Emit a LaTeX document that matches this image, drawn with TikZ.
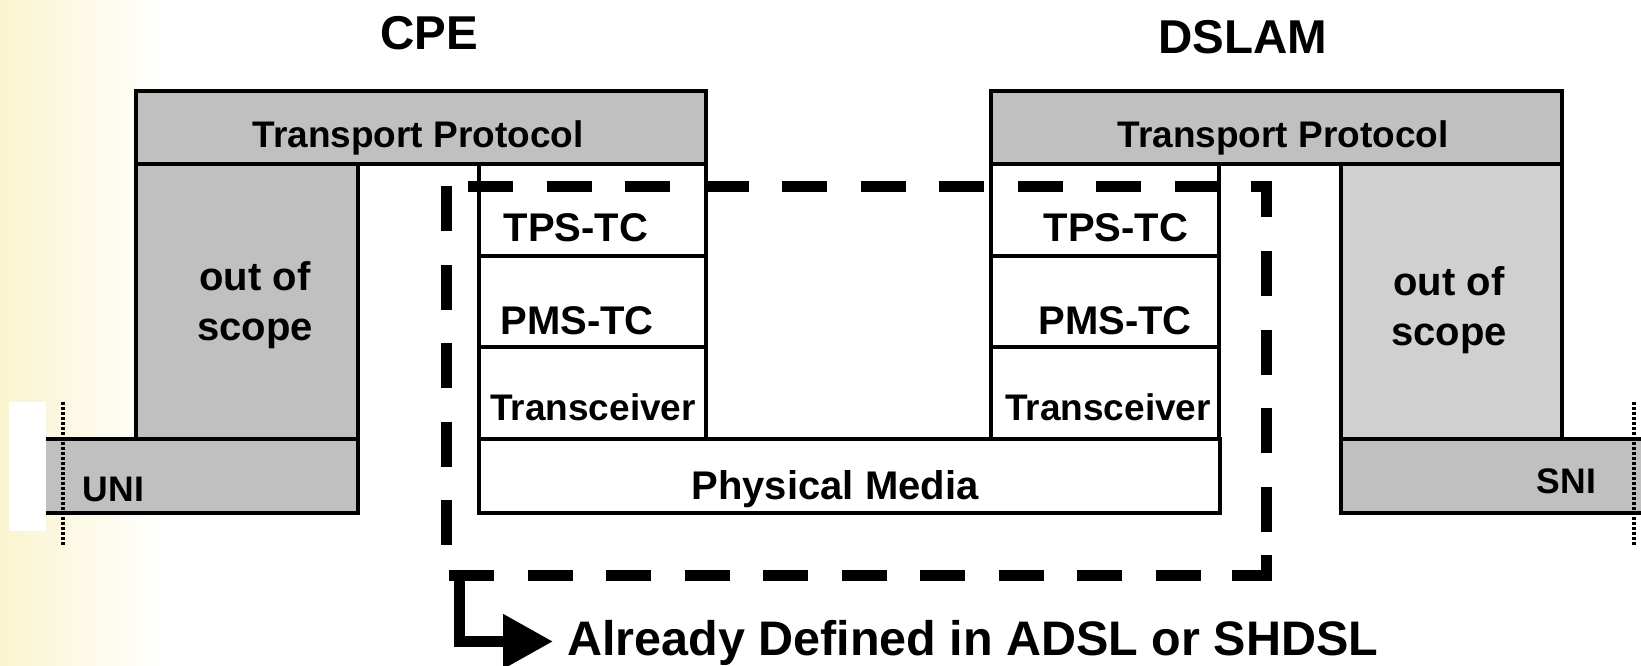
\documentclass[tikz,border=0pt]{standalone}
\usepackage{fontspec}
\setmainfont{Liberation Sans}
\usetikzlibrary{arrows.meta}
\definecolor{boxgray}{HTML}{C0C0C0}
\definecolor{boxlight}{HTML}{D0D0D0}
\definecolor{cream}{RGB}{250,244,208}
\begin{document}
\begin{tikzpicture}[x=1pt,y=-1pt,
  box/.style={draw=black,line width=4pt},
  lbl/.style={inner sep=0pt,font=\bfseries\fontsize{40}{50}\selectfont},
  lblsm/.style={inner sep=0pt,font=\bfseries\fontsize{37}{44}\selectfont},
  lblif/.style={inner sep=0pt,font=\bfseries\fontsize{35.5}{44}\selectfont},
  ttl/.style={inner sep=0pt,font=\bfseries\fontsize{47.5}{56}\selectfont},
  big/.style={inner sep=0pt,font=\bfseries\fontsize{48.5}{58}\selectfont},
  dsh/.style={line width=11pt,dash pattern=on 45pt off 33.5pt},
  crn/.style={line width=11pt},
  dotline/.style={line width=3.5pt,dash pattern=on 3pt off 2pt},
  arr/.style={line width=11pt,-{Triangle[length=50pt,width=52pt]}}]
\useasboundingbox (0,0) rectangle (1641,666);
% background
\fill[left color=cream,right color=white] (0,0) rectangle (165,666);
\fill[white] (9,402) rectangle (46,531);
% CPE side
\filldraw[box,fill=boxgray] (136,164) rectangle (358,439);
\fill[boxgray] (46,439) rectangle (358,513);
\draw[box] (46,439) -- (358,439) -- (358,513) -- (46,513);
\filldraw[box,fill=boxgray] (136,91) rectangle (706,164);
\filldraw[box,fill=white] (479,164) rectangle (706,439);
\draw[box] (479,256) -- (706,256);
\draw[box] (479,347) -- (706,347);
% DSLAM side
\filldraw[box,fill=boxlight] (1341,164) rectangle (1562,439);
\fill[boxgray] (1341,439) rectangle (1641,513);
\draw[box] (1641,439) -- (1341,439) -- (1341,513) -- (1641,513);
\filldraw[box,fill=boxgray] (991,91) rectangle (1562,164);
\filldraw[box,fill=white] (991,164) rectangle (1219,439);
\draw[box] (991,256) -- (1219,256);
\draw[box] (991,347) -- (1219,347);
% physical media
\filldraw[box,fill=white] (479,439) rectangle (1220,513);
% dashed region
\draw[dsh] (468,186) -- (1220,186);
\draw[crn] (1251,186) -- (1266,186) -- (1266,217);
\draw[dsh] (1266,251) -- (1266,532);
\draw[crn] (1266,555) -- (1266,575) -- (1232,575);
\draw[dsh] (449,575) -- (1201,575);
\draw[dsh] (446,186) -- (446,545);
% dotted reference lines
\draw[dotline] (63,402) -- (63,545);
\draw[dotline] (1634,402) -- (1634,545);
% titles
\node[ttl,anchor=base] (cpe) at (429,50) {CPE};
\node[ttl,anchor=base] (dslam) at (1243,54) {DSLAM};
% labels
\node[lblsm,anchor=base] (tp1) at (418,147) {Transport Protocol};
\node[lblsm,anchor=base] (tp2) at (1283,147) {Transport Protocol};
\node[lbl,anchor=base,align=center] (os1) at (255,340) {out of\\scope};
\node[lbl,anchor=base,align=center] (os2) at (1449,345) {out of\\scope};
\node[lbl,anchor=base] (tps1) at (576,241) {TPS-TC};
\node[lbl,anchor=base] (pms1) at (577,334) {PMS-TC};
\node[lblsm,anchor=base] (trx1) at (593,420) {Transceiver};
\node[lbl,anchor=base] (tps2) at (1116,241) {TPS-TC};
\node[lbl,anchor=base] (pms2) at (1115,334) {PMS-TC};
\node[lblsm,anchor=base] (trx2) at (1108,420) {Transceiver};
\node[lbl,anchor=base] (pm) at (835,499) {Physical Media};
\node[lblif,anchor=base] (uni) at (113.5,501) {UNI};
\node[lblif,anchor=base] (sni) at (1566.5,493) {SNI};
% legend arrow
\coordinate (dc) at (459,575);
\node[big,anchor=base west] (adsl) at (567,655.5) {Already Defined in ADSL or SHDSL};
\draw[arr,shorten >=14pt] (dc) |- ([yshift=1.5pt]adsl.west);
\end{tikzpicture}
\end{document}
